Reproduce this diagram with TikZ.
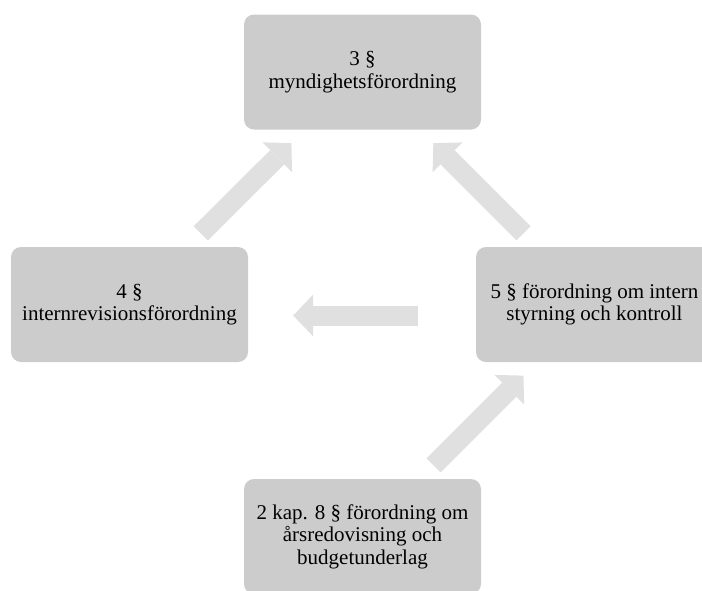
\documentclass[tikz,border=0pt]{standalone}
\usepackage{fontspec}
\setmainfont{Liberation Serif}
\usetikzlibrary{arrows.meta}
\definecolor{boxgray}{HTML}{CCCCCC}
\definecolor{arrowgray}{HTML}{E0E0E0}

\begin{document}
\begin{tikzpicture}[
  x=1pt, y=-1pt,
  box/.style={fill=boxgray, rounded corners=10pt, minimum width=237pt, minimum height=115pt, align=center, inner sep=0pt, font=\fontsize{21}{22.5}\selectfont},
  flow/.style={draw=arrowgray, line width=20pt, -{Triangle[length=20pt, width=42pt, line width=0pt]}, shorten <=19pt, shorten >=19pt}
]
  \useasboundingbox (0,0) rectangle (702,590);

  % Nodes
  \node[box] (myndf) at (362.5,72) {3 §\\myndighetsförordning};
  \node[box] (irf) at (129.5,304.5) {4 §\\internrevisionsförordning};
  \node[box] (fis) at (594.5,304.5) {5 § förordning om intern\\styrning och kontroll};
  \node[box] (arsf) at (362.5,536.5) {2 kap. 8 § förordning om\\årsredovisning och\\budgetunderlag};

  % Arrows
  \draw[flow] (irf) -- (myndf);
  \draw[flow] (fis) -- (myndf);
  \draw[flow, shorten <=58pt, shorten >=45pt] ([yshift=-11pt]fis.west) -- ([yshift=-11pt]irf.east);
  \draw[flow] (arsf) -- (fis);
\end{tikzpicture}
\end{document}
